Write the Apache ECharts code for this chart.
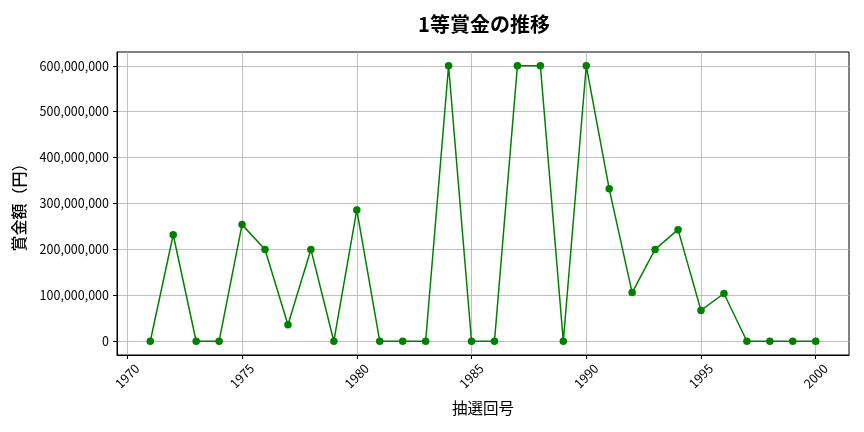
<!DOCTYPE html>
<html lang="ja">
<head>
  <meta charset="UTF-8">
  <title>1等賞金の推移</title>
  <script src="https://cdn.jsdelivr.net/npm/echarts/dist/echarts.min.js"></script>
  <style>
    html, body { margin: 0; padding: 0; background: #fff; }
    #chart { width: 864px; height: 432px; }
  </style>
</head>
<body>
  <div id="chart"></div>
  <script>
    // 抽選回号 (年)
    const years = [1971, 1972, 1973, 1974, 1975, 1976, 1977, 1978, 1979, 1980,
                   1981, 1982, 1983, 1984, 1985, 1986, 1987, 1988, 1989, 1990,
                   1991, 1992, 1993, 1994, 1995, 1996, 1997, 1998, 1999, 2000];
    // 1等賞金 (円)
    const prizes = [0, 232000000, 0, 0, 254000000, 200000000, 36000000, 200000000, 0, 286000000,
                    0, 0, 0, 600000000, 0, 0, 600000000, 600000000, 0, 600000000,
                    332000000, 106000000, 200000000, 243000000, 67000000, 104000000, 0, 0, 0, 0];
    // 目盛り
    const xTicks = [1970, 1975, 1980, 1985, 1990, 1995, 2000];
    const yTicks = [0, 100000000, 200000000, 300000000, 400000000, 500000000, 600000000];

    const font = '"Noto Sans CJK JP", "Noto Sans", sans-serif';
    const chart = echarts.init(document.getElementById('chart'), null, { renderer: 'canvas' });

    const points = years.map((y, i) => [y, prizes[i]]);

    chart.setOption({
      backgroundColor: '#fff',
      animation: false,
      textStyle: { fontFamily: font },
      title: {
        text: '1等賞金の推移',
        left: 479,
        top: 9,
        textAlign: 'center',
        textStyle: { fontFamily: font, fontSize: 20, fontWeight: 'bold', color: '#000' }
      },
      grid: { left: 117, top: 52, right: 15, bottom: 77, show: true, borderColor: '#000', borderWidth: 1 },
      xAxis: {
        type: 'value',
        min: 1969.55,
        max: 2001.45,
        name: '抽選回号',
        nameLocation: 'middle',
        nameGap: 45,
        nameTextStyle: { fontFamily: font, fontSize: 15.5, color: '#000' },
        axisLine: { show: true, onZero: false, lineStyle: { color: '#000' } },
        axisTick: { show: true, length: 4, customValues: xTicks, lineStyle: { color: '#000' } },
        axisLabel: {
          rotate: 45, fontSize: 12.5, color: '#000', fontFamily: font, margin: 21,
          align: 'center', verticalAlign: 'middle',
          customValues: xTicks,
          formatter: v => String(v)
        },
        splitLine: { show: true, lineStyle: { color: '#b0b0b0', width: 0.8 } }
      },
      yAxis: {
        type: 'value',
        min: -30000000,
        max: 630000000,
        name: '賞金額（円）',
        nameLocation: 'middle',
        nameGap: 90,
        nameRotate: 90,
        nameTextStyle: { fontFamily: font, fontSize: 16, fontWeight: 500, color: '#000' },
        axisLine: { show: true, lineStyle: { color: '#000' } },
        axisTick: { show: true, length: 4, customValues: yTicks, lineStyle: { color: '#000' } },
        axisLabel: {
          fontSize: 12.5, color: '#000', fontFamily: font, margin: 8,
          customValues: yTicks,
          formatter: v => v.toLocaleString('en-US')
        },
        splitLine: { show: true, lineStyle: { color: '#b0b0b0', width: 0.8 } }
      },
      series: [{
        type: 'line',
        data: points,
        symbol: 'circle',
        symbolSize: 7.5,
        itemStyle: { color: '#008000' },
        lineStyle: { color: '#008000', width: 1.5 }
      }]
    });
  </script>
</body>
</html>
